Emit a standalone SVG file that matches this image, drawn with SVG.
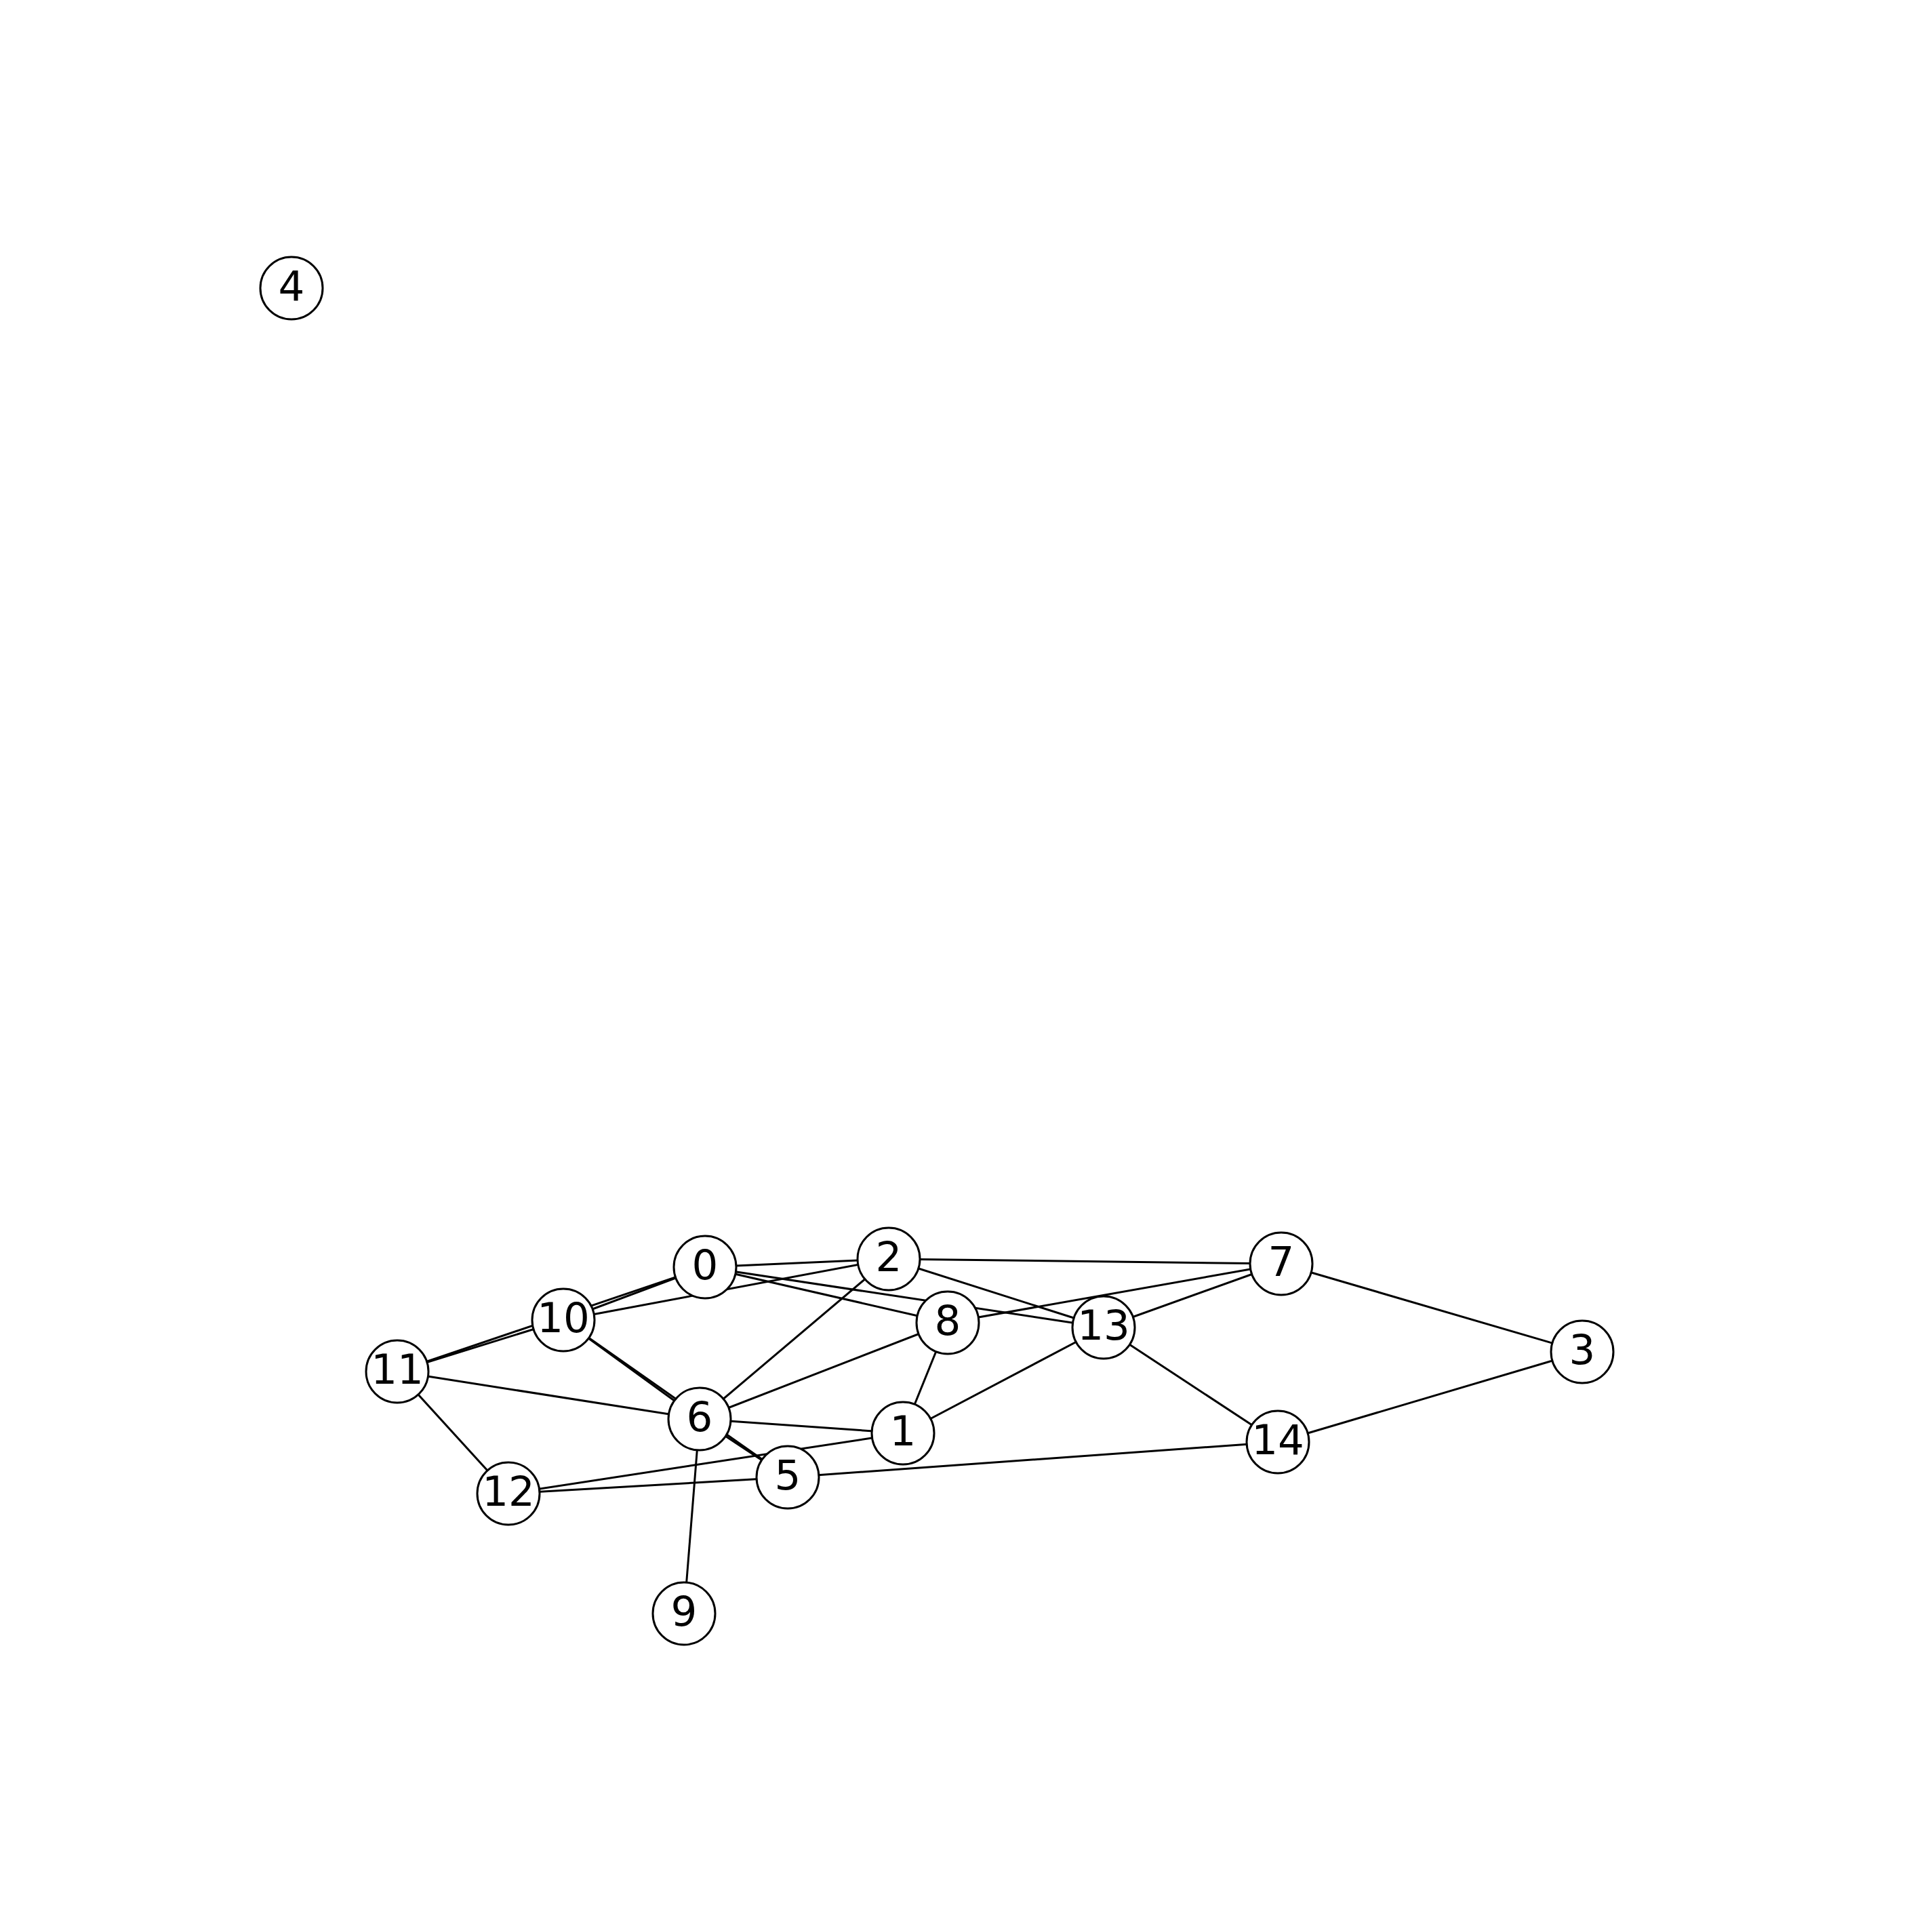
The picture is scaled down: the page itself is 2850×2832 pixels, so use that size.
<svg xmlns="http://www.w3.org/2000/svg" width="2850" height="2832" viewBox="0 0 2850 2832">
<style>
.e{stroke:#000;stroke-width:3;fill:none}
.n circle{fill:#fff;stroke:#000;stroke-width:3}
.n text{font-family:"DejaVu Sans","Liberation Sans",sans-serif;font-size:61px;text-anchor:middle;fill:#000}
</style>
<rect width="2850" height="2832" fill="#fff"/>
<g id="edges" class="e">
<line x1="1040" y1="1869" x2="1311" y2="1857"/>
<line x1="1040" y1="1869" x2="1398" y2="1951"/>
<line x1="1040" y1="1869" x2="1628" y2="1958"/>
<line x1="1040" y1="1869" x2="831" y2="1947"/>
<line x1="1040" y1="1869" x2="586" y2="2023"/>
<line x1="831" y1="1947" x2="586" y2="2023"/>
<line x1="831" y1="1947" x2="1311" y2="1857"/>
<line x1="831" y1="1947" x2="1032" y2="2093"/>
<line x1="831" y1="1947" x2="1162" y2="2179"/>
<line x1="586" y1="2023" x2="1032" y2="2093"/>
<line x1="586" y1="2023" x2="750" y2="2203"/>
<line x1="1032" y1="2093" x2="1311" y2="1857"/>
<line x1="1032" y1="2093" x2="1398" y2="1951"/>
<line x1="1032" y1="2093" x2="1332" y2="2114"/>
<line x1="1032" y1="2093" x2="1162" y2="2179"/>
<line x1="1032" y1="2093" x2="1009" y2="2380"/>
<line x1="750" y1="2203" x2="1332" y2="2114"/>
<line x1="750" y1="2203" x2="1162" y2="2179"/>
<line x1="1162" y1="2179" x2="1885" y2="2127"/>
<line x1="1398" y1="1951" x2="1332" y2="2114"/>
<line x1="1398" y1="1951" x2="1890" y2="1864"/>
<line x1="1332" y1="2114" x2="1628" y2="1958"/>
<line x1="1311" y1="1857" x2="1628" y2="1958"/>
<line x1="1311" y1="1857" x2="1890" y2="1864"/>
<line x1="1628" y1="1958" x2="1890" y2="1864"/>
<line x1="1628" y1="1958" x2="1885" y2="2127"/>
<line x1="1890" y1="1864" x2="2334" y2="1994"/>
<line x1="1885" y1="2127" x2="2334" y2="1994"/>
</g>
<g id="n0" class="n"><circle cx="1040" cy="1869" r="46"/><text x="1040" y="1887">0</text></g>
<g id="n1" class="n"><circle cx="1332" cy="2114" r="46"/><text x="1332" y="2132">1</text></g>
<g id="n2" class="n"><circle cx="1311" cy="1857" r="46"/><text x="1311" y="1875">2</text></g>
<g id="n3" class="n"><circle cx="2334" cy="1994" r="46"/><text x="2334" y="2012">3</text></g>
<g id="n4" class="n"><circle cx="430" cy="425" r="46"/><text x="430" y="443">4</text></g>
<g id="n5" class="n"><circle cx="1162" cy="2179" r="46"/><text x="1162" y="2197">5</text></g>
<g id="n6" class="n"><circle cx="1032" cy="2093" r="46"/><text x="1032" y="2111">6</text></g>
<g id="n7" class="n"><circle cx="1890" cy="1864" r="46"/><text x="1890" y="1882">7</text></g>
<g id="n8" class="n"><circle cx="1398" cy="1951" r="46"/><text x="1398" y="1969">8</text></g>
<g id="n9" class="n"><circle cx="1009" cy="2380" r="46"/><text x="1009" y="2398">9</text></g>
<g id="n10" class="n"><circle cx="831" cy="1947" r="46"/><text x="831" y="1965">10</text></g>
<g id="n11" class="n"><circle cx="586" cy="2023" r="46"/><text x="586" y="2041">11</text></g>
<g id="n12" class="n"><circle cx="750" cy="2203" r="46"/><text x="750" y="2221">12</text></g>
<g id="n13" class="n"><circle cx="1628" cy="1958" r="46"/><text x="1628" y="1976">13</text></g>
<g id="n14" class="n"><circle cx="1885" cy="2127" r="46"/><text x="1885" y="2145">14</text></g>
</svg>
